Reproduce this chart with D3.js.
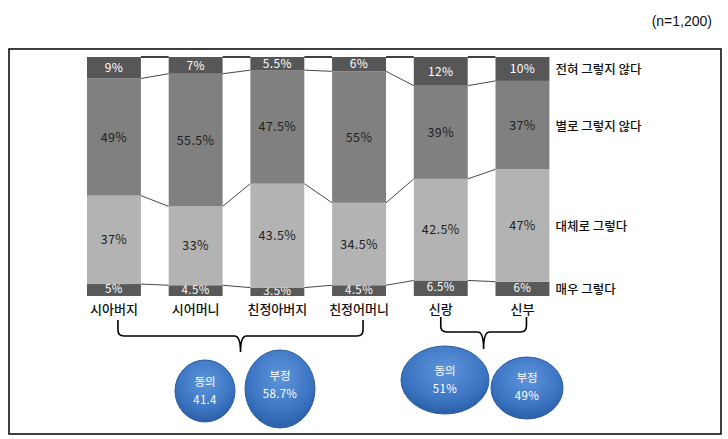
<!DOCTYPE html>
<html><head><meta charset="utf-8">
<script src="https://cdn.jsdelivr.net/npm/d3@7"></script>
<style>body{margin:0;background:#fff}svg{display:block}</style>
</head><body><svg id="c" width="728" height="439"></svg>
<script>
// ---- data ----
const categories = ["시아버지","시어머니","친정아버지","친정어머니","신랑","신부"];
const seriesNames = ["매우 그렇다","대체로 그렇다","별로 그렇지 않다","전혀 그렇지 않다"]; // bottom -> top
const veryYes   = [5, 4.5, 3.5, 4.5, 6.5, 6];
const mostlyYes = [37, 33, 43.5, 34.5, 42.5, 47];
const notReally = [49, 55.5, 47.5, 55, 39, 37];
const notAtAll  = [9, 7, 5.5, 6, 12, 10];
const groupLabels = [["동의","41.4"],["부정","58.7%"],["동의","51%"],["부정","49%"]];
const sampleNote = "(n=1,200)";

const seriesValues = [veryYes, mostlyYes, notReally, notAtAll];
const segFill = ["#595959","#b3b3b3","#808080","#575757"];
const segText = ["#ffffff","#222222","#222222","#ffffff"];
const segFont = [11.5, 12.5, 12.5, 12];

const svg = d3.select("#c");
const KR = "'Noto Sans CJK KR','Noto Sans',sans-serif";

// frame
svg.append("rect").attr("x",9).attr("y",49).attr("width",712).attr("height",385)
  .attr("fill","none").attr("stroke","#000").attr("stroke-width",1.5);
svg.append("text").attr("x",712).attr("y",26).attr("text-anchor","end")
  .attr("font-family","'Liberation Sans Narrow','Liberation Sans',Arial,sans-serif")
  .attr("font-size",14).attr("fill","#111").text(sampleNote);

const x = d3.scaleBand().domain(categories).range([73.1,563.3]).paddingInner(0.34).paddingOuter(0.17);
const y = d3.scaleLinear().domain([0,100]).range([296,57]);

// stacked data
const rows = categories.map((c,i)=>{const o={cat:c}; seriesNames.forEach((s,k)=>o[s]=seriesValues[k][i]); return o;});
const stack = d3.stack().keys(seriesNames)(rows);

// connector lines
const conn = svg.append("g");
for (let i=0;i<categories.length-1;i++){
  const a = categories[i], b = categories[i+1];
  stack.forEach((layer,k)=>{
    const ya = y(layer[i][1]), yb = y(layer[i+1][1]);
    const top = k===stack.length-1;
    conn.append("line").attr("x1",x(a)+x.bandwidth()).attr("x2",x(b))
      .attr("y1",ya).attr("y2",yb)
      .attr("stroke",top?"#000":"#333").attr("stroke-width",top?1.5:0.9);
  });
}

// bars
stack.forEach((layer,k)=>{
  const g = svg.append("g");
  g.selectAll("rect").data(layer).join("rect")
    .attr("x",d=>x(d.data.cat)).attr("width",x.bandwidth())
    .attr("y",d=>y(d[1])).attr("height",d=>y(d[0])-y(d[1]))
    .attr("fill",segFill[k]);
  g.selectAll("text").data(layer).join("text")
    .attr("x",d=>x(d.data.cat)+x.bandwidth()/2)
    .attr("y",d=>(y(d[0])+y(d[1]))/2 - (k===0?1:0)).attr("dy","0.36em")
    .attr("text-anchor","middle").attr("font-family",KR).attr("font-size",segFont[k])
    .attr("letter-spacing",0.4)
    .attr("fill",segText[k]).text(d=>(d[1]-d[0])+"%");
});

// legend labels beside last bar
const last = categories.length-1;
stack.forEach((layer,k)=>{
  svg.append("text").attr("x",x(categories[last])+x.bandwidth()+6)
    .attr("y",(y(layer[last][0])+y(layer[last][1]))/2 + 1).attr("dy","0.36em")
    .attr("font-family",KR).attr("font-size",12.5).attr("font-weight",500).attr("fill","#111")
    .text(seriesNames[k]);
});

// category labels
svg.append("g").selectAll("text").data(categories).join("text")
  .attr("x",d=>x(d)+x.bandwidth()/2).attr("y",309).attr("dy","0.36em")
  .attr("text-anchor","middle").attr("font-family",KR).attr("font-size",13).attr("font-weight",500)
  .attr("fill","#111").text(d=>d);

// braces
function brace(x0,x1,yt,yh,yTip){
  const m=(x0+x1)/2, r=6;
  const p=d3.path();
  p.moveTo(x0,yt); p.lineTo(x0,yh-r); p.quadraticCurveTo(x0,yh,x0+r,yh);
  p.lineTo(m-r,yh); p.quadraticCurveTo(m,yh,m,yTip);
  p.quadraticCurveTo(m,yh,m+r,yh); p.lineTo(x1-r,yh); p.quadraticCurveTo(x1,yh,x1,yh-r); p.lineTo(x1,yt);
  return p.toString();
}
const bw = x.bandwidth();
svg.append("path").attr("d",brace(x(categories[0])+bw/2+4,x(categories[3])+bw/2+4,320,336,352))
  .attr("fill","none").attr("stroke","#000").attr("stroke-width",1.6);
svg.append("path").attr("d",brace(x(categories[4])+bw/2,x(categories[5])+bw/2+4,317,332,349))
  .attr("fill","none").attr("stroke","#000").attr("stroke-width",1.6);

// bubbles
const defs = svg.append("defs");
const grad = defs.append("radialGradient").attr("id","bg").attr("cx","50%").attr("cy","35%").attr("r","65%");
grad.append("stop").attr("offset","0%").attr("stop-color","#5f95dc");
grad.append("stop").attr("offset","70%").attr("stop-color","#3b74c2");
grad.append("stop").attr("offset","100%").attr("stop-color","#2b5fa6");
const bubbleGeom = [
  {cx:205,cy:391,rx:30,ry:31,t1:382,t2:400},
  {cx:280,cy:389,rx:35,ry:39,t1:376,t2:394},
  {cx:445,cy:380,rx:44,ry:34,t1:371,t2:389},
  {cx:527,cy:388,rx:36,ry:31,t1:378,t2:396}
];
groupLabels.forEach((lab,i)=>{
  const g=bubbleGeom[i];
  svg.append("ellipse").attr("cx",g.cx).attr("cy",g.cy).attr("rx",g.rx).attr("ry",g.ry)
    .attr("fill","url(#bg)").attr("stroke","#2c5d9e").attr("stroke-width",1);
  svg.append("text").attr("x",g.cx).attr("y",g.t1).attr("dy","0.36em").attr("text-anchor","middle")
    .attr("font-family",KR).attr("font-size",11.5).attr("fill","#fff").text(lab[0]);
  svg.append("text").attr("x",g.cx).attr("y",g.t2).attr("dy","0.36em").attr("text-anchor","middle")
    .attr("font-family",KR).attr("font-size",11.5).attr("letter-spacing",0.3).attr("fill","#fff").text(lab[1]);
});
</script></body></html>
